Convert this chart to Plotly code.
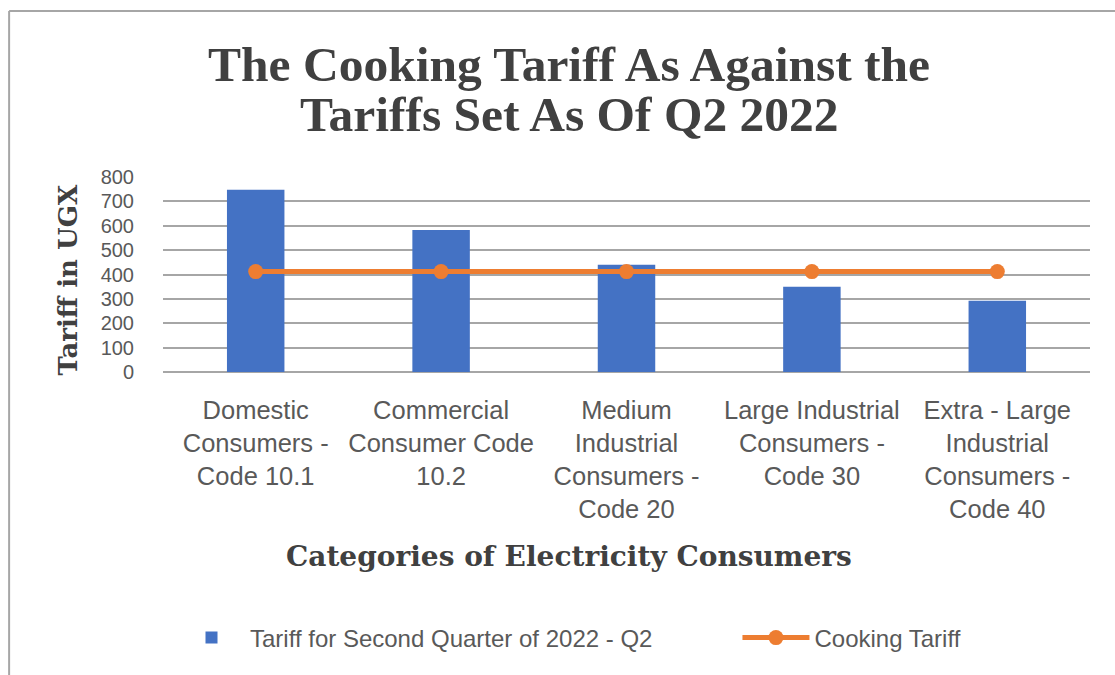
import plotly.graph_objects as go

# Consumer categories and tariffs (UGX per kWh)
categories = [
    "Domestic<br>Consumers -<br>Code 10.1",
    "Commercial<br>Consumer Code<br>10.2",
    "Medium<br>Industrial<br>Consumers -<br>Code 20",
    "Large Industrial<br>Consumers -<br>Code 30",
    "Extra - Large<br>Industrial<br>Consumers -<br>Code 40",
]
q2_tariff = [747.5, 583.0, 440.0, 350.0, 292.0]
cooking_tariff = [412, 412, 412, 412, 412]
y_ticks = [0, 100, 200, 300, 400, 500, 600, 700, 800]
title_lines = ["The Cooking Tariff As Against the", "Tariffs Set As Of Q2 2022"]

BLUE = "#4472C4"
ORANGE = "#ED7D31"
TEXT = "#404040"
TICK = "#595959"
GRID = "#A6A6A6"

fig = go.Figure()
fig.add_trace(go.Bar(
    x=categories, y=q2_tariff,
    name="Tariff for Second Quarter of 2022 - Q2" + "&nbsp;" * 12,
    marker=dict(color=BLUE, line=dict(width=0)), width=0.31,
))
fig.add_trace(go.Scatter(
    x=categories, y=cooking_tariff, name="Cooking Tariff", mode="lines+markers",
    line=dict(color=ORANGE, width=5), marker=dict(color=ORANGE, size=15),
))

title_font = dict(family="Liberation Serif, serif", size=49.5, color=TEXT)
annotations = [
    dict(text=f"<b>{title_lines[0]}</b>", xref="paper", yref="paper",
         x=0.438, y=(372 - 64) / 195, xanchor="center", yanchor="middle",
         showarrow=False, font=title_font),
    dict(text=f"<b>{title_lines[1]}</b>", xref="paper", yref="paper",
         x=0.438, y=(372 - 114) / 195, xanchor="center", yanchor="middle",
         showarrow=False, font=title_font),
    dict(text="<b>Tariff in UGX</b>", xref="paper", yref="paper",
         x=-0.103, y=0.472, xanchor="center", yanchor="middle", textangle=-90,
         showarrow=False,
         font=dict(family="DejaVu Serif, serif", size=26, color=TEXT)),
    dict(text="<b>Categories of Electricity Consumers</b>", xref="paper", yref="paper",
         x=0.438, y=-0.945, xanchor="center", yanchor="middle", showarrow=False,
         font=dict(family="DejaVu Serif, serif", size=28, color=TEXT)),
]

fig.update_layout(
    width=1115, height=675,
    margin=dict(l=163, r=25, t=177, b=303, autoexpand=False),
    paper_bgcolor="white", plot_bgcolor="white",
    showlegend=True,
    legend=dict(
        orientation="h", xref="container", x=173 / 1115, xanchor="left",
        yref="container", y=1 - 638 / 675, yanchor="middle",
        font=dict(family="Liberation Sans, Arial", size=24, color=TICK),
        itemwidth=67, tracegroupgap=0, traceorder="normal",
    ),
    xaxis=dict(
        tickfont=dict(family="Liberation Sans, Arial", size=25.5, color=TICK),
        showgrid=False, showline=False, zeroline=False, ticks="", ticklabelstandoff=20,
    ),
    yaxis=dict(
        range=[0, 800], tickvals=y_ticks, ticktext=[str(v) for v in y_ticks],
        tickfont=dict(family="Liberation Sans, Arial", size=20, color=TICK),
        showgrid=True, gridcolor=GRID, gridwidth=1.5, zeroline=True,
        zerolinecolor=GRID, zerolinewidth=1.5, showline=False, ticks="",
        ticklabelstandoff=28,
    ),
    annotations=annotations,
    shapes=[
        dict(type="line", xref="paper", yref="paper", x0=-0.166, x1=-0.166,
             y0=1.851, y1=-1.6, line=dict(color="#A6A6A6", width=2)),
        dict(type="line", xref="paper", yref="paper", x0=-0.166, x1=1.1,
             y0=1.851, y1=1.851, line=dict(color="#A6A6A6", width=2)),
    ],
)

fig.write_html("out.html")
